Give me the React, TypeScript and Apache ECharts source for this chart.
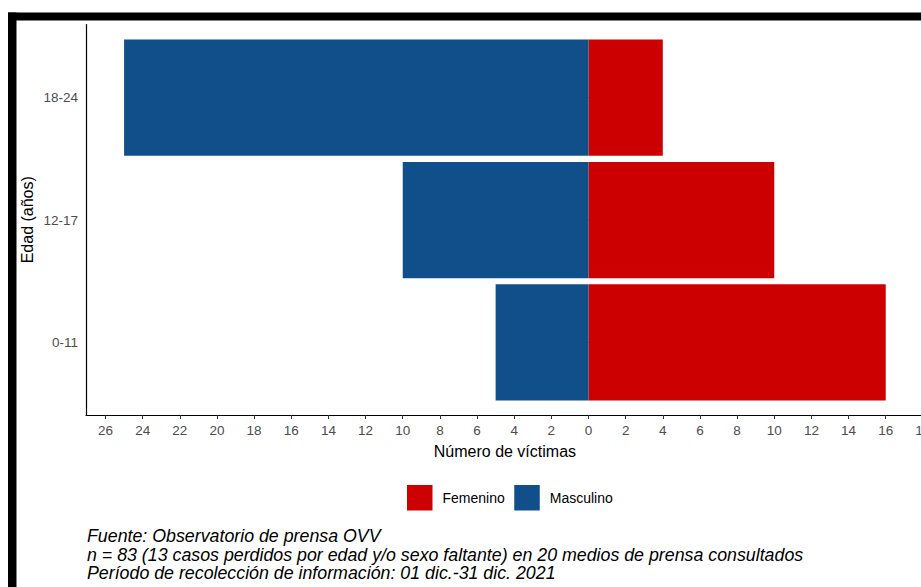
import React, { useEffect, useRef } from "react";
import * as echarts from "echarts";

const categories = ["0-11", "12-17", "18-24"];
const femenino = [16, 10, 4];
const masculino = [-5, -10, -25];
const xTicks = [-26, -24, -22, -20, -18, -16, -14, -12, -10, -8, -6, -4, -2, 0, 2, 4, 6, 8, 10, 12, 14, 16, 18];
const captionLines = [
  "Fuente: Observatorio de prensa OVV",
  "n = 83 (13 casos perdidos por edad y/o sexo faltante) en 20 medios de prensa consultados",
  "Período de recolección de información: 01 dic.-31 dic. 2021",
];

const FONT = "'Liberation Sans', Arial, sans-serif";
const RED = "#CC0000";
const BLUE = "#114F8A";
const XMIN = -27.05;
const XMAX = 18.05;

export default function App() {
  const ref = useRef<HTMLDivElement>(null);
  useEffect(() => {
    if (!ref.current) return;
    const chart = echarts.init(ref.current, undefined, { renderer: "svg" });
    chart.setOption({
      animation: false,
      backgroundColor: "#fff",
      textStyle: { fontFamily: FONT },
      title: {
        text: captionLines.join("\n"),
        left: 87,
        top: 527,
        padding: 0,
        textStyle: { fontFamily: FONT, fontStyle: "italic", fontWeight: "normal", fontSize: 17.8, lineHeight: 18.5, color: "#000" },
      },
      legend: {
        data: ["Femenino", "Masculino"],
        left: 407,
        top: 485,
        padding: 0,
        icon: "rect",
        itemWidth: 25.5,
        itemHeight: 25.5,
        itemGap: 9.5,
        itemStyle: { borderWidth: 0 },
        textStyle: { fontFamily: FONT, fontSize: 14, color: "#000", padding: [0, 0, 0, 5] },
      },
      grid: [
        { left: 86, top: 36.55, width: 837.8, height: 367, outerBoundsMode: "none", containLabel: false },
        { left: 86, top: 24.5, width: 837.8, height: 390.5, outerBoundsMode: "none", containLabel: false },
      ],
      xAxis: [
        { type: "value", gridIndex: 0, min: XMIN, max: XMAX, show: false, splitLine: { show: false } },
        {
          type: "value",
          gridIndex: 1,
          min: XMIN,
          max: XMAX,
          position: "bottom",
          name: "Número de víctimas",
          nameLocation: "middle",
          nameGap: 28.5,
          nameTextStyle: { fontFamily: FONT, fontSize: 16, color: "#000" },
          axisLine: { show: true, onZero: false, lineStyle: { color: "#000", width: 1.2 } },
          axisTick: { show: true, length: 4, customValues: xTicks, lineStyle: { color: "#333" } },
          axisLabel: {
            customValues: xTicks,
            margin: 8.5,
            fontSize: 13.5,
            color: "#4D4D4D",
            fontFamily: FONT,
            hideOverlap: false,
            formatter: (v: number) => String(Math.abs(v)),
          },
          splitLine: { show: false },
        },
      ],
      yAxis: [
        {
          type: "category",
          gridIndex: 0,
          data: categories,
          axisLine: { show: false },
          axisTick: { show: true, alignWithLabel: true, length: 4, lineStyle: { color: "#333" } },
          axisLabel: { margin: 8, fontSize: 13.5, color: "#4D4D4D", fontFamily: FONT },
        },
        {
          type: "value",
          gridIndex: 1,
          min: 0,
          max: 1,
          name: "Edad (años)",
          nameLocation: "middle",
          nameGap: 51,
          nameTextStyle: { fontFamily: FONT, fontSize: 16, color: "#000" },
          axisLine: { show: true, onZero: false, lineStyle: { color: "#000", width: 1.2 } },
          axisTick: { show: false },
          axisLabel: { show: false },
          splitLine: { show: false },
        },
      ],
      series: [
        {
          name: "Femenino",
          type: "bar",
          xAxisIndex: 0,
          yAxisIndex: 0,
          stack: "total",
          barWidth: "95%",
          data: femenino,
          itemStyle: { color: RED },
        },
        {
          name: "Masculino",
          type: "bar",
          xAxisIndex: 0,
          yAxisIndex: 0,
          stack: "total",
          barWidth: "95%",
          data: masculino,
          itemStyle: { color: BLUE },
        },
      ],
      graphic: [
        { type: "rect", shape: { x: 8, y: 12.5, width: 913, height: 8 }, style: { fill: "#000" }, silent: true },
        { type: "rect", shape: { x: 8, y: 12.5, width: 8.5, height: 575 }, style: { fill: "#000" }, silent: true },
      ],
    });
    return () => chart.dispose();
  }, []);
  return (
    <div
      ref={ref}
      style={{ position: "absolute", left: 0, top: 0, width: 921, height: 587 }}
    />
  );
}
